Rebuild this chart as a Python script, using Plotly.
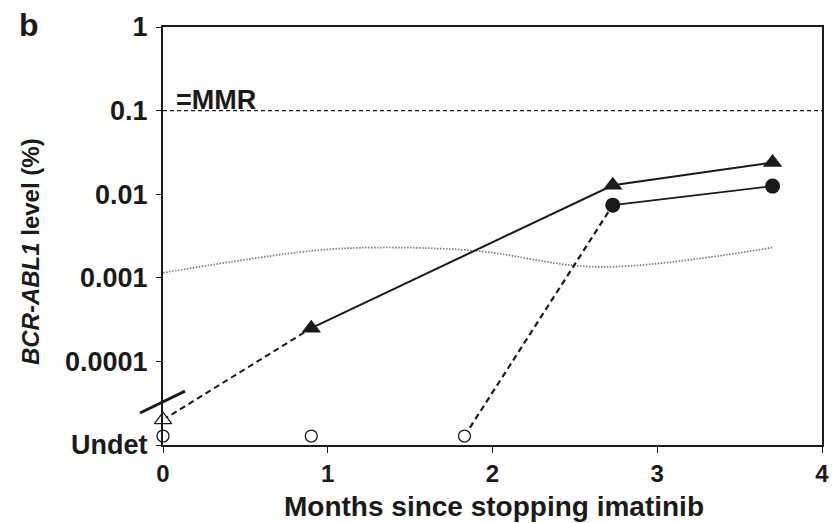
import plotly.graph_objects as go

# ---- data ----
# Patient with triangles
tri_x_undet = [0.0]
tri_y_undet = [2.0e-5]
tri_x = [0.9, 2.73, 3.7]
tri_y = [2.5e-4, 0.0128, 0.024]

# Patient with circles
circ_x_undet = [0.0, 0.9, 1.83]
circ_y_undet = [1.28e-5, 1.28e-5, 1.28e-5]
circ_x = [2.73, 3.7]
circ_y = [0.0074, 0.0125]

# Dotted reference curve
dot_x = [0.0, 0.9, 1.3, 1.9, 2.65, 3.7]
dot_y = [0.00115, 0.0021, 0.0023, 0.0021, 0.00135, 0.0023]

# MMR line
mmr_x = [0, 4]
mmr_y = [0.1, 0.1]

y_tickvals = [1e-5, 1e-4, 1e-3, 1e-2, 1e-1, 1]
y_ticktext = ["Undet", "0.0001", "0.001", "0.01", "0.1", "1"]
x_tickvals = [0, 1, 2, 3, 4]

INK = "#1a1a1a"
FONT = "Liberation Sans"

fig = go.Figure()

# MMR dashed line
fig.add_trace(go.Scatter(x=mmr_x, y=mmr_y, mode="lines",
                         line=dict(color=INK, width=1.2, dash="4px,3px"),
                         hoverinfo="skip"))
# dotted curve
fig.add_trace(go.Scatter(x=dot_x, y=dot_y, mode="lines",
                         line=dict(color="#7a7a7a", width=1.7, dash="1.5px,1.5px", shape="spline", smoothing=1.0),
                         hoverinfo="skip"))

# dashed connectors from undetectable points
fig.add_trace(go.Scatter(x=[tri_x_undet[-1], tri_x[0]], y=[tri_y_undet[-1], tri_y[0]], mode="lines",
                         line=dict(color=INK, width=2, dash="6px,4px")))
fig.add_trace(go.Scatter(x=[circ_x_undet[-1], circ_x[0]], y=[circ_y_undet[-1], circ_y[0]], mode="lines",
                         line=dict(color=INK, width=2.2, dash="6px,4px")))

# solid segments
fig.add_trace(go.Scatter(x=tri_x, y=tri_y, mode="lines+markers",
                         line=dict(color=INK, width=2),
                         marker=dict(symbol="triangle-up", size=17, color=INK)))
fig.add_trace(go.Scatter(x=circ_x, y=circ_y, mode="lines+markers",
                         line=dict(color=INK, width=1.8),
                         marker=dict(symbol="circle", size=15, color=INK)))

# open markers (undetectable)
fig.add_trace(go.Scatter(x=tri_x_undet, y=tri_y_undet, mode="markers",
                         marker=dict(symbol="triangle-up", size=15, color="white",
                                     line=dict(color=INK, width=1.3))))
fig.add_trace(go.Scatter(x=circ_x_undet, y=circ_y_undet, mode="markers",
                         marker=dict(symbol="circle", size=12, color="white",
                                     line=dict(color=INK, width=1.3))))

for tr in fig.data:
    tr.cliponaxis = False

fig.update_layout(
    width=833, height=523,
    margin=dict(l=163, r=11, t=27, b=78, autoexpand=False),
    paper_bgcolor="white", plot_bgcolor="white",
    showlegend=False,
    font=dict(family=FONT, color=INK),
    xaxis=dict(range=[0, 4], tickvals=x_tickvals, showgrid=False, zeroline=False,
               automargin=False,
               showline=True, linecolor=INK, linewidth=2, mirror=True,
               ticks="outside", ticklen=6, tickcolor=INK, tickwidth=1.2,
               tickfont=dict(family=FONT, size=24, color=INK, weight="bold")),
    yaxis=dict(type="log", range=[-5, 0], tickvals=y_tickvals, ticktext=y_ticktext,
               showgrid=False, zeroline=False, automargin=False,
               showline=True, linecolor=INK, linewidth=2, mirror=True,
               ticks="outside", ticklen=5, tickcolor=INK, tickwidth=1.2,
               ticklabelstandoff=3,
               tickfont=dict(family=FONT, size=27, color=INK, weight="bold")),
    shapes=[
        dict(type="line", xref="paper", yref="paper",
             x0=-0.0349, y0=0.0766, x1=0.0334, y1=0.129,
             line=dict(color=INK, width=3)),
    ],
    annotations=[
        dict(text="<b>b</b>", xref="paper", yref="paper", x=-0.222, y=1.005,
             xanchor="left", yanchor="middle", showarrow=False,
             font=dict(family=FONT, size=32, color=INK)),
        dict(text="<b>=MMR</b>", xref="paper", yref="paper", x=0.017, y=0.826,
             xanchor="left", yanchor="middle", showarrow=False,
             font=dict(family=FONT, size=27, color=INK)),
        dict(text="<b><i>BCR-ABL1</i> level (%)</b>", xref="paper", yref="paper",
             x=-0.2, y=0.462, xanchor="center", yanchor="middle", textangle=-90,
             showarrow=False, font=dict(family=FONT, size=24, color=INK)),
        dict(text="<b>Months since stopping imatinib</b>", xref="paper", yref="paper",
             x=0.502, y=-0.148, xanchor="center", yanchor="middle",
             showarrow=False, font=dict(family=FONT, size=28, color=INK)),
    ],
)

fig.write_html("out.html")
